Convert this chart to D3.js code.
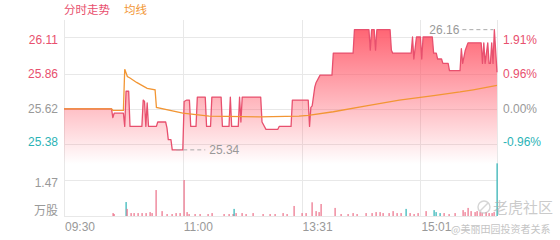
<!DOCTYPE html>
<html>
<head>
<meta charset="utf-8">
<script src="https://cdn.jsdelivr.net/npm/d3@7"></script>
<style>
  html, body { margin: 0; padding: 0; background: #fff; }
  svg { display: block; font-family: "Liberation Sans", Arial, "Noto Sans CJK SC", sans-serif; }
</style>
</head>
<body>
<div class="chart"></div>
<script>
// Reference values
const prevClose = 25.62;
const priceTicks = [26.11, 25.86, 25.62, 25.38];
const pctTicks = ["1.91%", "0.96%", "0.00%", "-0.96%"];
const volTick = 1.47;
const timeTickIdx = [0, 90, 180, 270];
const timeTickLabels = ["09:30", "11:00", "13:31", "15:01"];
const lastIdx = 328;

// Price line vertices (minute index / price)
const priceIdx = [0, 36, 37, 38, 45, 46, 47, 49, 50, 59, 60, 61, 62, 63, 64, 70, 71, 77, 78, 79,
  81, 82, 90, 91, 93, 95, 96, 100, 101, 107, 108, 111, 112, 119, 120, 125, 126, 127, 132, 133,
  134, 135, 149, 150, 153, 162, 163, 172, 173, 185, 186, 187, 188, 190, 191, 194, 203, 204, 219, 220,
  231, 232, 233, 235, 236, 237, 247, 248, 249, 263, 264, 265, 267, 270, 271, 272, 279, 280, 282, 283,
  286, 287, 291, 292, 300, 301, 302, 304, 306, 316, 317, 318, 319, 321, 322, 323, 324, 325, 326, 328];
const priceVal = [25.62, 25.62, 25.56, 25.59, 25.59, 25.50, 25.74, 25.74, 25.50, 25.50, 25.68, 25.67, 25.50, 25.66, 25.50, 25.50, 25.53, 25.53, 25.49, 25.41,
  25.41, 25.34, 25.34, 25.67, 25.68, 25.68, 25.50, 25.50, 25.70, 25.70, 25.50, 25.50, 25.70, 25.70, 25.50, 25.50, 25.70, 25.50, 25.50, 25.70,
  25.53, 25.70, 25.70, 25.53, 25.48, 25.48, 25.50, 25.50, 25.68, 25.68, 25.50, 25.63, 25.64, 25.77, 25.80, 25.85, 25.85, 26.00, 26.00, 26.16,
  26.16, 26.02, 26.16, 26.16, 26.02, 26.16, 26.16, 26.02, 26.00, 26.00, 26.11, 25.96, 26.11, 26.11, 25.96, 26.11, 26.11, 26.00, 26.00, 25.96,
  25.96, 25.93, 25.93, 25.88, 25.88, 26.03, 25.93, 26.02, 26.07, 26.07, 25.93, 26.07, 25.93, 26.07, 25.93, 25.93, 26.07, 25.93, 26.16, 25.87];

// Average price line vertices
const avgIdx = [0, 36, 37, 45, 46, 48, 50, 55, 59, 63, 69, 70, 90, 110, 148, 178, 185, 204, 229, 254, 280, 300, 310, 328];
const avgVal = [25.62, 25.62, 25.61, 25.61, 25.89, 25.84, 25.83, 25.80, 25.78, 25.76, 25.75, 25.63, 25.59, 25.57, 25.565, 25.57, 25.575, 25.60, 25.64, 25.68, 25.71, 25.735, 25.75, 25.78];

// Volume (万股) per minute, d = down minute
const volIdx = [37, 38, 47, 48, 51, 53, 56, 59, 62, 65, 67, 70, 74, 78, 82, 85, 88, 91, 93, 95,
  99, 103, 109, 112, 121, 125, 128, 129, 130, 135, 138, 143, 151, 156, 160, 166, 169, 174, 180, 183,
  188, 191, 193, 195, 205, 210, 215, 219, 222, 229, 233, 236, 239, 242, 246, 249, 252, 255, 259, 262,
  265, 268, 274, 280, 282, 285, 288, 292, 296, 302, 304, 306, 308, 311, 313, 315, 317, 320, 322, 324, 326, 328];
const volVal = [0.12, 0.08, 0.57, 0.29, 0.12, 0.12, 0.12, 0.12, 0.12, 0.16, 0.12, 1.06, 0.20, 0.08, 0.08, 0.12, 0.12, 1.47, 0.16, 0.08,
  0.08, 0.08, 0.08, 0.12, 0.08, 0.08, 0.08, 0.29, 0.12, 0.12, 0.08, 0.12, 0.08, 0.08, 0.08, 0.12, 0.08, 0.41, 0.12, 0.12,
  0.56, 0.20, 0.16, 0.49, 0.33, 0.08, 0.08, 0.12, 0.08, 0.12, 0.12, 0.16, 0.16, 0.12, 0.12, 0.20, 0.12, 0.12, 0.29, 0.12,
  0.08, 0.12, 0.20, 0.24, 0.16, 0.12, 0.12, 0.08, 0.12, 0.24, 0.16, 0.33, 0.20, 0.16, 0.20, 0.16, 0.12, 0.16, 0.12, 0.12, 0.16, 2.15];
const volDownIdx = [47, 129, 259, 280, 282, 285, 328];

const RED = "#e8506e";
const GREEN = "#2cb3b6";
const GRAY = "#999";
const ORANGE = "#f29634";
const GRID = "#e8e8e8";

/**
 * Intraday (分时) chart
 */
class IntradayChart
{
  constructor(selector)
  {
    this._width = 560;
    this._height = 240;
    this._left = 64;
    this._right = 497;
    this._top = 20;
    this._priceBottom = 164;
    this._volBottom = 216;

    this._svg = d3.select(selector)
      .append("svg")
      .attr("width", this._width)
      .attr("height", this._height);

    this._x = d3.scaleLinear().domain([0, lastIdx]).range([this._left, this._right]);
    this._y = d3.scaleLinear().domain([priceTicks[3], priceTicks[0]]).range([144, 37]);
    this._yVol = d3.scaleLinear().domain([0, volTick]).range([this._volBottom, 180]);

    this._price = priceIdx.map((d, i) => ({ i: d, v: priceVal[i] }));
    this._avg = avgIdx.map((d, i) => ({ i: d, v: avgVal[i] }));
  }

  // crisp 1px lines
  _c(v) { return Math.round(v) + 0.5; }

  _drawGrid()
  {
    const g = this._svg.append("g").attr("stroke", GRID).attr("stroke-width", 1);

    g.selectAll("line.h")
      .data(priceTicks)
      .enter().append("line")
      .attr("x1", this._left).attr("x2", this._right)
      .attr("y1", d => this._c(this._y(d))).attr("y2", d => this._c(this._y(d)));

    g.append("line")
      .attr("x1", this._left).attr("x2", this._right)
      .attr("y1", this._c(this._yVol(volTick))).attr("y2", this._c(this._yVol(volTick)));

    g.append("line")
      .attr("x1", this._left).attr("x2", this._right)
      .attr("y1", this._c(this._volBottom)).attr("y2", this._c(this._volBottom));

    g.selectAll("line.v")
      .data(timeTickIdx.concat([lastIdx]))
      .enter().append("line")
      .attr("x1", d => this._c(this._x(d))).attr("x2", d => this._c(this._x(d)))
      .attr("y1", this._top).attr("y2", this._volBottom);
  }

  _drawPrice()
  {
    const defs = this._svg.append("defs");
    const grad = defs.append("linearGradient")
      .attr("id", "areaGrad")
      .attr("gradientUnits", "userSpaceOnUse")
      .attr("x1", 0).attr("x2", 0)
      .attr("y1", this._y(d3.max(priceVal))).attr("y2", this._priceBottom);
    grad.append("stop").attr("offset", 0).attr("stop-color", "#ff5868").attr("stop-opacity", 0.92);
    grad.append("stop").attr("offset", 1).attr("stop-color", "#ff5868").attr("stop-opacity", 0);

    const area = d3.area()
      .x(d => this._x(d.i))
      .y0(this._priceBottom)
      .y1(d => this._y(d.v));

    this._svg.append("path")
      .datum(this._price)
      .attr("d", area)
      .attr("fill", "url(#areaGrad)");

    const line = d3.line()
      .x(d => this._x(d.i))
      .y(d => this._y(d.v));

    this._svg.append("path")
      .datum(this._price)
      .attr("d", line)
      .attr("fill", "none")
      .attr("stroke", RED)
      .attr("stroke-width", 1.3)
      .attr("stroke-linejoin", "round");

    this._svg.append("path")
      .datum(this._avg)
      .attr("d", line)
      .attr("fill", "none")
      .attr("stroke", ORANGE)
      .attr("stroke-width", 1.3);
  }

  _drawVolume()
  {
    this._svg.append("g")
      .selectAll("rect")
      .data(volIdx.map((d, i) => ({ i: d, v: volVal[i] })))
      .enter().append("rect")
      .attr("x", d => Math.round(this._x(d.i)) - 0.5)
      .attr("width", 1.2)
      .attr("y", d => this._yVol(d.v))
      .attr("height", d => this._volBottom - this._yVol(d.v))
      .attr("fill", d => volDownIdx.includes(d.i) ? GREEN : "#ec6f88");
  }

  _drawAxes()
  {
    const tickColor = v => v > prevClose ? RED : (v < prevClose ? GREEN : GRAY);
    const shift = (i, n) => i === 0 ? 3 : (i === n - 1 ? -2 : 0);

    // price labels (left)
    this._svg.append("g")
      .selectAll("text")
      .data(priceTicks)
      .enter().append("text")
      .attr("x", 58)
      .attr("y", (d, i) => this._y(d) + shift(i, priceTicks.length))
      .attr("dy", "0.36em")
      .attr("text-anchor", "end")
      .attr("font-size", 12)
      .attr("fill", d => tickColor(d))
      .text(d => d.toFixed(2));

    // percentage labels (right)
    this._svg.append("g")
      .selectAll("text")
      .data(pctTicks)
      .enter().append("text")
      .attr("x", 503)
      .attr("y", (d, i) => this._y(priceTicks[i]) + shift(i, pctTicks.length))
      .attr("dy", "0.36em")
      .attr("font-size", 12)
      .attr("fill", (d, i) => tickColor(priceTicks[i]))
      .text(d => d);

    // volume labels
    this._svg.append("text")
      .attr("x", 58).attr("y", this._yVol(volTick) + 3)
      .attr("dy", "0.36em")
      .attr("text-anchor", "end")
      .attr("font-size", 12)
      .attr("fill", GRAY)
      .text(volTick.toFixed(2));

    this._svg.append("text")
      .attr("x", 58).attr("y", this._volBottom - 5)
      .attr("dy", "0.36em")
      .attr("text-anchor", "end")
      .attr("font-size", 12)
      .attr("font-family", "'Noto Sans CJK SC', sans-serif")
      .attr("fill", GRAY)
      .text("万股");

    // time labels
    this._svg.append("g")
      .selectAll("text")
      .data(timeTickIdx)
      .enter().append("text")
      .attr("x", d => this._x(d) + 1)
      .attr("y", 231)
      .attr("font-size", 12)
      .attr("fill", GRAY)
      .text((d, i) => timeTickLabels[i]);

    // legend
    this._svg.append("text")
      .attr("x", 64).attr("y", 14)
      .attr("font-size", 11.5)
      .attr("font-family", "'Noto Sans CJK SC', sans-serif")
      .attr("fill", RED)
      .text("分时走势");

    this._svg.append("text")
      .attr("x", 124).attr("y", 14)
      .attr("font-size", 11.5)
      .attr("font-family", "'Noto Sans CJK SC', sans-serif")
      .attr("fill", ORANGE)
      .text("均线");
  }

  _drawMarkers()
  {
    const maxV = d3.max(priceVal);
    const minV = d3.min(priceVal);
    const maxP = this._price.filter(d => d.v === maxV).pop();
    const minP = this._price.find(d => d.v === minV);

    const mx = this._x(maxP.i), my = this._y(maxP.v);
    this._svg.append("line")
      .attr("x1", mx - 32).attr("x2", mx - 1)
      .attr("y1", my).attr("y2", my)
      .attr("stroke", "#aaa").attr("stroke-dasharray", "4,3");
    this._svg.append("text")
      .attr("x", mx - 35).attr("y", my)
      .attr("dy", "0.36em")
      .attr("text-anchor", "end")
      .attr("font-size", 12)
      .attr("fill", GRAY)
      .text(maxV.toFixed(2));

    const nx = this._x(minP.i), ny = this._y(minP.v);
    this._svg.append("line")
      .attr("x1", nx + 4).attr("x2", nx + 33)
      .attr("y1", ny).attr("y2", ny)
      .attr("stroke", "#aaa").attr("stroke-dasharray", "4,3");
    this._svg.append("text")
      .attr("x", nx + 37).attr("y", ny)
      .attr("dy", "0.36em")
      .attr("font-size", 12)
      .attr("fill", GRAY)
      .text(minV.toFixed(2));
  }

  _drawWatermark()
  {
    const g = this._svg.append("g").attr("opacity", 0.6);
    g.append("circle")
      .attr("cx", 484).attr("cy", 207).attr("r", 6)
      .attr("fill", "none").attr("stroke", "#bbb").attr("stroke-width", 1.4);
    g.append("path")
      .attr("d", "M480,211 L488,203")
      .attr("stroke", "#bbb").attr("stroke-width", 1.4);
    g.append("text")
      .attr("x", 493).attr("y", 213)
      .attr("font-size", 15)
      .attr("font-family", "'Noto Sans CJK SC', sans-serif")
      .attr("fill", "#aaa")
      .text("老虎社区");

    this._svg.append("text")
      .attr("x", 451).attr("y", 233)
      .attr("font-size", 10)
      .attr("font-family", "'Noto Sans CJK SC', sans-serif")
      .attr("fill", "#c4c4c4")
      .text("@美丽田园投资者关系");
  }

  render()
  {
    this._drawGrid();
    this._drawPrice();
    this._drawVolume();
    this._drawAxes();
    this._drawMarkers();
    this._drawWatermark();
  }
}

new IntradayChart(".chart").render();
</script>
</body>
</html>
